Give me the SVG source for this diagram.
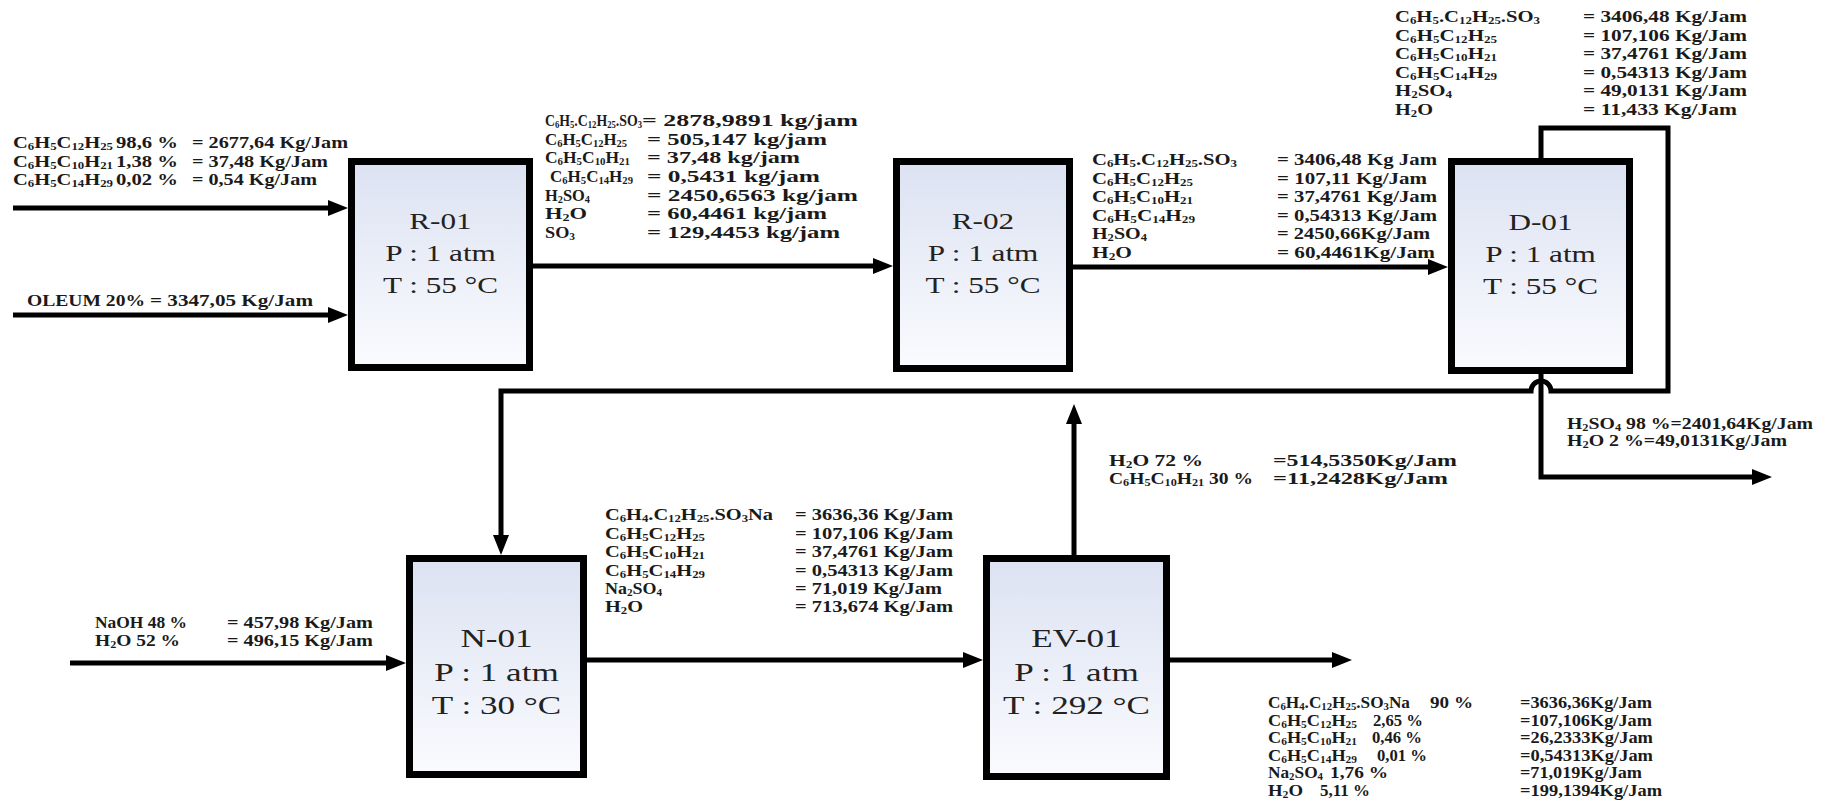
<svg xmlns="http://www.w3.org/2000/svg" width="1831" height="802" viewBox="0 0 1831 802">
<defs>
<linearGradient id="fill" x1="0" y1="0" x2="0" y2="1">
<stop offset="0" stop-color="#dce2f2"/>
<stop offset="1" stop-color="#fafbfe"/>
</linearGradient>
<marker id="ah" markerUnits="userSpaceOnUse" markerWidth="20" markerHeight="16" refX="12" refY="8" orient="auto">
<path d="M0,0 L20,8 L0,16 Z" fill="#000"/>
</marker>
<style>
.box{fill:url(#fill);stroke:#000;stroke-width:7}
.c{fill:none;stroke:#000;stroke-width:5;marker-end:url(#ah)}
.t{font-family:"Liberation Serif","Times New Roman",serif;font-weight:bold;font-size:16px;fill:#1a1a1a}
.s{font-size:10px;baseline-shift:-2px}
.b{font-family:"Liberation Serif","Times New Roman",serif;font-size:24px;fill:#222;text-anchor:middle}
.bb{font-size:26px}
</style>
</defs>
<rect width="1831" height="802" fill="#fff"/>

<g id="R-01">
<rect class="box" x="351.5" y="161.5" width="178" height="206"/>
<g transform="translate(440.5,0) scale(1.3,1)">
<text class="b" x="0" y="229">R-01</text>
<text class="b" x="0" y="261">P : 1 atm</text>
<text class="b" x="0" y="293">T : 55 °C</text>
</g>
</g>
<g id="R-02">
<rect class="box" x="896.5" y="161.5" width="173" height="207"/>
<g transform="translate(983,0) scale(1.3,1)">
<text class="b" x="0" y="229">R-02</text>
<text class="b" x="0" y="261">P : 1 atm</text>
<text class="b" x="0" y="293">T : 55 °C</text>
</g>
</g>
<g id="D-01">
<rect class="box" x="1451.5" y="161.5" width="178" height="209"/>
<g transform="translate(1540.5,0) scale(1.3,1)">
<text class="b" x="0" y="230">D-01</text>
<text class="b" x="0" y="262">P : 1 atm</text>
<text class="b" x="0" y="294">T : 55 °C</text>
</g>
</g>
<g id="N-01">
<rect class="box" x="409.5" y="558.5" width="174" height="216"/>
<g transform="translate(496.5,0) scale(1.35,1)">
<text class="b bb" x="0" y="647">N-01</text>
<text class="b bb" x="0" y="681">P : 1 atm</text>
<text class="b bb" x="0" y="714">T : 30 °C</text>
</g>
</g>
<g id="EV-01">
<rect class="box" x="986.5" y="558.5" width="180" height="218"/>
<g transform="translate(1076.5,0) scale(1.35,1)">
<text class="b bb" x="0" y="647">EV-01</text>
<text class="b bb" x="0" y="681">P : 1 atm</text>
<text class="b bb" x="0" y="714">T : 292 °C</text>
</g>
</g>

<g id="connectors">
<path class="c" d="M13,208 H340"/>
<path class="c" d="M13,315 H340"/>
<path class="c" d="M533,266 H885"/>
<path class="c" d="M1073,267 H1440"/>
<path class="c" d="M1541,158 V128 H1668 V391 H1551 A10,10 0 0 0 1531,391 H501 V547"/>
<path class="c" d="M1541,374 V477 H1764"/>
<path class="c" d="M70,663 H398"/>
<path class="c" d="M587,660 H975"/>
<path class="c" d="M1170,660 H1344"/>
<path class="c" d="M1074,555 V412"/>
</g>

<g id="labels" class="t">
<g id="feed-lab">
<text x="13" y="148" textLength="100" lengthAdjust="spacingAndGlyphs">C<tspan class="s">6</tspan>H<tspan class="s">5</tspan>C<tspan class="s">12</tspan>H<tspan class="s">25</tspan></text>
<text x="116" y="148" textLength="62" lengthAdjust="spacingAndGlyphs">98,6 %</text>
<text x="192" y="148" textLength="156" lengthAdjust="spacingAndGlyphs">= 2677,64 Kg/Jam</text>
<text x="13" y="166.5" textLength="100" lengthAdjust="spacingAndGlyphs">C<tspan class="s">6</tspan>H<tspan class="s">5</tspan>C<tspan class="s">10</tspan>H<tspan class="s">21</tspan></text>
<text x="116" y="166.5" textLength="62" lengthAdjust="spacingAndGlyphs">1,38 %</text>
<text x="192" y="166.5" textLength="136" lengthAdjust="spacingAndGlyphs">= 37,48 Kg/Jam</text>
<text x="13" y="185" textLength="100" lengthAdjust="spacingAndGlyphs">C<tspan class="s">6</tspan>H<tspan class="s">5</tspan>C<tspan class="s">14</tspan>H<tspan class="s">29</tspan></text>
<text x="116" y="185" textLength="62" lengthAdjust="spacingAndGlyphs">0,02 %</text>
<text x="192" y="185" textLength="125" lengthAdjust="spacingAndGlyphs">= 0,54 Kg/Jam</text>
</g>
<g id="feed-oleum">
<text x="27" y="306" textLength="118" lengthAdjust="spacingAndGlyphs">OLEUM 20%</text>
<text x="150" y="306" textLength="163" lengthAdjust="spacingAndGlyphs">= 3347,05 Kg/Jam</text>
</g>
<g id="r01-out">
<text x="545" y="126" textLength="97" lengthAdjust="spacingAndGlyphs">C<tspan class="s">6</tspan>H<tspan class="s">5</tspan>.C<tspan class="s">12</tspan>H<tspan class="s">25</tspan>.SO<tspan class="s">3</tspan></text>
<text x="642" y="126" textLength="216" lengthAdjust="spacingAndGlyphs">= 2878,9891 kg/jam</text>
<text x="545" y="144.7" textLength="82" lengthAdjust="spacingAndGlyphs">C<tspan class="s">6</tspan>H<tspan class="s">5</tspan>C<tspan class="s">12</tspan>H<tspan class="s">25</tspan></text>
<text x="647" y="144.7" textLength="180" lengthAdjust="spacingAndGlyphs">= 505,147 kg/jam</text>
<text x="545" y="163.3" textLength="85" lengthAdjust="spacingAndGlyphs">C<tspan class="s">6</tspan>H<tspan class="s">5</tspan>C<tspan class="s">10</tspan>H<tspan class="s">21</tspan></text>
<text x="647" y="163.3" textLength="153" lengthAdjust="spacingAndGlyphs">= 37,48  kg/jam</text>
<text x="550" y="182" textLength="83" lengthAdjust="spacingAndGlyphs">C<tspan class="s">6</tspan>H<tspan class="s">5</tspan>C<tspan class="s">14</tspan>H<tspan class="s">29</tspan></text>
<text x="647" y="182" textLength="173" lengthAdjust="spacingAndGlyphs">= 0,5431 kg/jam</text>
<text x="545" y="200.7" textLength="45" lengthAdjust="spacingAndGlyphs">H<tspan class="s">2</tspan>SO<tspan class="s">4</tspan></text>
<text x="647" y="200.7" textLength="211" lengthAdjust="spacingAndGlyphs">= 2450,6563 kg/jam</text>
<text x="545" y="219.3" textLength="42" lengthAdjust="spacingAndGlyphs">H<tspan class="s">2</tspan>O</text>
<text x="647" y="219.3" textLength="180" lengthAdjust="spacingAndGlyphs">= 60,4461 kg/jam</text>
<text x="545" y="238" textLength="30" lengthAdjust="spacingAndGlyphs">SO<tspan class="s">3</tspan></text>
<text x="647" y="238" textLength="193" lengthAdjust="spacingAndGlyphs">= 129,4453 kg/jam</text>
</g>
<g id="r02-out">
<text x="1092" y="165" textLength="145" lengthAdjust="spacingAndGlyphs">C<tspan class="s">6</tspan>H<tspan class="s">5</tspan>.C<tspan class="s">12</tspan>H<tspan class="s">25</tspan>.SO<tspan class="s">3</tspan></text>
<text x="1277" y="165" textLength="160" lengthAdjust="spacingAndGlyphs">=  3406,48 Kg Jam</text>
<text x="1092" y="183.5" textLength="101" lengthAdjust="spacingAndGlyphs">C<tspan class="s">6</tspan>H<tspan class="s">5</tspan>C<tspan class="s">12</tspan>H<tspan class="s">25</tspan></text>
<text x="1277" y="183.5" textLength="150" lengthAdjust="spacingAndGlyphs">=  107,11 Kg/Jam</text>
<text x="1092" y="202" textLength="101" lengthAdjust="spacingAndGlyphs">C<tspan class="s">6</tspan>H<tspan class="s">5</tspan>C<tspan class="s">10</tspan>H<tspan class="s">21</tspan></text>
<text x="1277" y="202" textLength="160" lengthAdjust="spacingAndGlyphs">= 37,4761 Kg/Jam</text>
<text x="1092" y="220.5" textLength="103" lengthAdjust="spacingAndGlyphs">C<tspan class="s">6</tspan>H<tspan class="s">5</tspan>C<tspan class="s">14</tspan>H<tspan class="s">29</tspan></text>
<text x="1277" y="220.5" textLength="160" lengthAdjust="spacingAndGlyphs">= 0,54313 Kg/Jam</text>
<text x="1092" y="239" textLength="55" lengthAdjust="spacingAndGlyphs">H<tspan class="s">2</tspan>SO<tspan class="s">4</tspan></text>
<text x="1277" y="239" textLength="153" lengthAdjust="spacingAndGlyphs">= 2450,66Kg/Jam</text>
<text x="1092" y="257.5" textLength="40" lengthAdjust="spacingAndGlyphs">H<tspan class="s">2</tspan>O</text>
<text x="1277" y="257.5" textLength="158" lengthAdjust="spacingAndGlyphs">= 60,4461Kg/Jam</text>
</g>
<g id="d01-top">
<text x="1395" y="22" textLength="145" lengthAdjust="spacingAndGlyphs">C<tspan class="s">6</tspan>H<tspan class="s">5</tspan>.C<tspan class="s">12</tspan>H<tspan class="s">25</tspan>.SO<tspan class="s">3</tspan></text>
<text x="1583" y="22" textLength="164" lengthAdjust="spacingAndGlyphs">= 3406,48 Kg/Jam</text>
<text x="1395" y="40.5" textLength="102" lengthAdjust="spacingAndGlyphs">C<tspan class="s">6</tspan>H<tspan class="s">5</tspan>C<tspan class="s">12</tspan>H<tspan class="s">25</tspan></text>
<text x="1583" y="40.5" textLength="164" lengthAdjust="spacingAndGlyphs">= 107,106 Kg/Jam</text>
<text x="1395" y="59" textLength="102" lengthAdjust="spacingAndGlyphs">C<tspan class="s">6</tspan>H<tspan class="s">5</tspan>C<tspan class="s">10</tspan>H<tspan class="s">21</tspan></text>
<text x="1583" y="59" textLength="164" lengthAdjust="spacingAndGlyphs">= 37,4761 Kg/Jam</text>
<text x="1395" y="77.5" textLength="102" lengthAdjust="spacingAndGlyphs">C<tspan class="s">6</tspan>H<tspan class="s">5</tspan>C<tspan class="s">14</tspan>H<tspan class="s">29</tspan></text>
<text x="1583" y="77.5" textLength="164" lengthAdjust="spacingAndGlyphs">= 0,54313 Kg/Jam</text>
<text x="1395" y="96" textLength="57" lengthAdjust="spacingAndGlyphs">H<tspan class="s">2</tspan>SO<tspan class="s">4</tspan></text>
<text x="1583" y="96" textLength="164" lengthAdjust="spacingAndGlyphs">= 49,0131 Kg/Jam</text>
<text x="1395" y="114.5" textLength="38" lengthAdjust="spacingAndGlyphs">H<tspan class="s">2</tspan>O</text>
<text x="1583" y="114.5" textLength="154" lengthAdjust="spacingAndGlyphs">= 11,433 Kg/Jam</text>
</g>
<g id="d01-bottom">
<text x="1567" y="429" textLength="246" lengthAdjust="spacingAndGlyphs">H<tspan class="s">2</tspan>SO<tspan class="s">4</tspan> 98 %=2401,64Kg/Jam</text>
<text x="1567" y="446" textLength="220" lengthAdjust="spacingAndGlyphs">H<tspan class="s">2</tspan>O 2 %=49,0131Kg/Jam</text>
</g>
<g id="ev01-vapor">
<text x="1109" y="466" textLength="94" lengthAdjust="spacingAndGlyphs">H<tspan class="s">2</tspan>O 72 %</text>
<text x="1273" y="466" textLength="184" lengthAdjust="spacingAndGlyphs">=514,5350Kg/Jam</text>
<text x="1109" y="484" textLength="144" lengthAdjust="spacingAndGlyphs">C<tspan class="s">6</tspan>H<tspan class="s">5</tspan>C<tspan class="s">10</tspan>H<tspan class="s">21</tspan> 30 %</text>
<text x="1273" y="484" textLength="175" lengthAdjust="spacingAndGlyphs">=11,2428Kg/Jam</text>
</g>
<g id="n01-out">
<text x="605" y="520" textLength="168" lengthAdjust="spacingAndGlyphs">C<tspan class="s">6</tspan>H<tspan class="s">4</tspan>.C<tspan class="s">12</tspan>H<tspan class="s">25</tspan>.SO<tspan class="s">3</tspan>Na</text>
<text x="795" y="520" textLength="158" lengthAdjust="spacingAndGlyphs">= 3636,36 Kg/Jam</text>
<text x="605" y="538.5" textLength="100" lengthAdjust="spacingAndGlyphs">C<tspan class="s">6</tspan>H<tspan class="s">5</tspan>C<tspan class="s">12</tspan>H<tspan class="s">25</tspan></text>
<text x="795" y="538.5" textLength="158" lengthAdjust="spacingAndGlyphs">= 107,106 Kg/Jam</text>
<text x="605" y="557" textLength="100" lengthAdjust="spacingAndGlyphs">C<tspan class="s">6</tspan>H<tspan class="s">5</tspan>C<tspan class="s">10</tspan>H<tspan class="s">21</tspan></text>
<text x="795" y="557" textLength="158" lengthAdjust="spacingAndGlyphs">= 37,4761 Kg/Jam</text>
<text x="605" y="575.5" textLength="100" lengthAdjust="spacingAndGlyphs">C<tspan class="s">6</tspan>H<tspan class="s">5</tspan>C<tspan class="s">14</tspan>H<tspan class="s">29</tspan></text>
<text x="795" y="575.5" textLength="158" lengthAdjust="spacingAndGlyphs">= 0,54313 Kg/Jam</text>
<text x="605" y="594" textLength="57" lengthAdjust="spacingAndGlyphs">Na<tspan class="s">2</tspan>SO<tspan class="s">4</tspan></text>
<text x="795" y="594" textLength="147" lengthAdjust="spacingAndGlyphs">= 71,019 Kg/Jam</text>
<text x="605" y="612" textLength="38" lengthAdjust="spacingAndGlyphs">H<tspan class="s">2</tspan>O</text>
<text x="795" y="612" textLength="158" lengthAdjust="spacingAndGlyphs">= 713,674 Kg/Jam</text>
</g>
<g id="feed-naoh">
<text x="95" y="628" textLength="92" lengthAdjust="spacingAndGlyphs">NaOH 48 %</text>
<text x="227" y="628" textLength="146" lengthAdjust="spacingAndGlyphs">= 457,98 Kg/Jam</text>
<text x="95" y="646" textLength="85" lengthAdjust="spacingAndGlyphs">H<tspan class="s">2</tspan>O 52 %</text>
<text x="227" y="646" textLength="146" lengthAdjust="spacingAndGlyphs">= 496,15 Kg/Jam</text>
</g>
<g id="product">
<text x="1268" y="708" textLength="142" lengthAdjust="spacingAndGlyphs">C<tspan class="s">6</tspan>H<tspan class="s">4</tspan>.C<tspan class="s">12</tspan>H<tspan class="s">25</tspan>.SO<tspan class="s">3</tspan>Na</text>
<text x="1430" y="708" textLength="43" lengthAdjust="spacingAndGlyphs">90 %</text>
<text x="1520" y="708" textLength="132" lengthAdjust="spacingAndGlyphs">=3636,36Kg/Jam</text>
<text x="1268" y="725.6" textLength="89" lengthAdjust="spacingAndGlyphs">C<tspan class="s">6</tspan>H<tspan class="s">5</tspan>C<tspan class="s">12</tspan>H<tspan class="s">25</tspan></text>
<text x="1373" y="725.6" textLength="50" lengthAdjust="spacingAndGlyphs">2,65 %</text>
<text x="1520" y="725.6" textLength="132" lengthAdjust="spacingAndGlyphs">=107,106Kg/Jam</text>
<text x="1268" y="743.2" textLength="89" lengthAdjust="spacingAndGlyphs">C<tspan class="s">6</tspan>H<tspan class="s">5</tspan>C<tspan class="s">10</tspan>H<tspan class="s">21</tspan></text>
<text x="1372" y="743.2" textLength="50" lengthAdjust="spacingAndGlyphs">0,46 %</text>
<text x="1520" y="743.2" textLength="133" lengthAdjust="spacingAndGlyphs">=26,2333Kg/Jam</text>
<text x="1268" y="760.8" textLength="89" lengthAdjust="spacingAndGlyphs">C<tspan class="s">6</tspan>H<tspan class="s">5</tspan>C<tspan class="s">14</tspan>H<tspan class="s">29</tspan></text>
<text x="1377" y="760.8" textLength="50" lengthAdjust="spacingAndGlyphs">0,01 %</text>
<text x="1520" y="760.8" textLength="133" lengthAdjust="spacingAndGlyphs">=0,54313Kg/Jam</text>
<text x="1268" y="778.4" textLength="55" lengthAdjust="spacingAndGlyphs">Na<tspan class="s">2</tspan>SO<tspan class="s">4</tspan></text>
<text x="1330" y="778.4" textLength="58" lengthAdjust="spacingAndGlyphs">1,76 %</text>
<text x="1520" y="778.4" textLength="122" lengthAdjust="spacingAndGlyphs">=71,019Kg/Jam</text>
<text x="1268" y="796" textLength="35" lengthAdjust="spacingAndGlyphs">H<tspan class="s">2</tspan>O</text>
<text x="1320" y="796" textLength="50" lengthAdjust="spacingAndGlyphs">5,11 %</text>
<text x="1520" y="796" textLength="142" lengthAdjust="spacingAndGlyphs">=199,1394Kg/Jam</text>
</g>
</g>
</svg>
